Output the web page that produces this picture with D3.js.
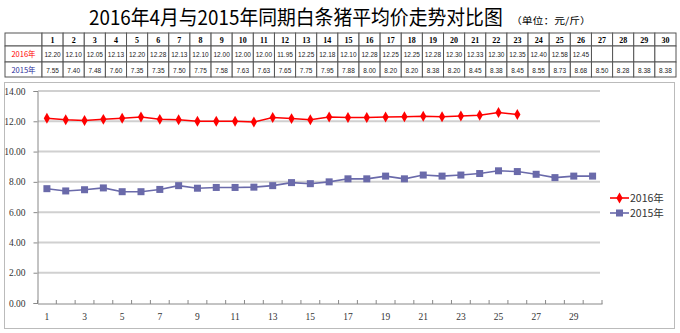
<!DOCTYPE html>
<html><head><meta charset="utf-8">
<script src="https://cdn.jsdelivr.net/npm/d3@7"></script>
<style>body{margin:0;background:#fff}svg{display:block}</style>
</head><body>
<script>
const days = [1,2,3,4,5,6,7,8,9,10,11,12,13,14,15,16,17,18,19,20,21,22,23,24,25,26,27,28,29,30];
const v2016 = [12.20,12.10,12.05,12.13,12.20,12.28,12.13,12.10,12.00,12.00,12.00,11.95,12.25,12.18,12.10,12.28,12.25,12.25,12.28,12.30,12.33,12.30,12.35,12.40,12.58,12.45];
const v2015 = [7.55,7.40,7.48,7.60,7.35,7.35,7.50,7.75,7.58,7.63,7.63,7.65,7.75,7.95,7.88,8.00,8.20,8.20,8.38,8.20,8.45,8.38,8.45,8.55,8.73,8.68,8.50,8.28,8.38,8.38];
const seriesNames = ["2016年","2015年"];
const yTicks = [0,2,4,6,8,10,12,14];
const title = "2016年4月与2015年同期白条猪平均价走势对比图";
const unit = "（单位：元/斤）";

const W=680,H=333;
const svg=d3.select("body").append("svg").attr("width",W).attr("height",H);
const red="#ff0000", blue="#6a6aaa";

// Title (scaled horizontally to the reference width)
const tt=svg.append("text").attr("x",0).attr("y",0).attr("font-family","Noto Sans CJK SC").attr("font-size",20)
  .attr("fill","#000").text(title);
const tw=tt.node().getComputedTextLength();
tt.attr("transform",`translate(89,25) scale(${414/tw},1)`);
const ut=svg.append("text").attr("x",0).attr("y",0).attr("font-family","Noto Sans CJK SC").attr("font-size",9.5)
  .attr("fill","#000").text(unit);
const uw=ut.node().getComputedTextLength();
ut.attr("transform",`translate(511,24) scale(${80/uw},1)`);

// Table
const tx = d3.scaleBand().domain(days).range([42,676]);
const rows=[{y:33,h:13},{y:46,h:16},{y:62,h:15}];
const tg=svg.append("g");
const fmt=d3.format(".2f");
rows.forEach((r,i)=>{
  tg.append("rect").attr("x",5).attr("y",r.y).attr("width",37).attr("height",r.h)
    .attr("fill","#fff").attr("stroke","#555").attr("stroke-width",1);
  tg.selectAll(null).data(days).enter().append("rect")
    .attr("x",d=>tx(d)).attr("y",r.y).attr("width",tx.bandwidth()).attr("height",r.h)
    .attr("fill","#fff").attr("stroke","#555").attr("stroke-width",1);
});
tg.append("text").attr("x",23.5).attr("y",57).attr("text-anchor","middle").attr("font-family","Noto Sans CJK SC")
  .attr("font-size",7.5).attr("fill","#ff0000").text(seriesNames[0]);
tg.append("text").attr("x",23.5).attr("y",72.5).attr("text-anchor","middle").attr("font-family","Noto Sans CJK SC")
  .attr("font-size",7.5).attr("fill","#2a2a9a").text(seriesNames[1]);
tg.selectAll(".hd").data(days).enter().append("text")
  .attr("x",d=>tx(d)+tx.bandwidth()/2).attr("y",43).attr("text-anchor","middle")
  .attr("font-family","Liberation Serif").attr("font-weight","bold").attr("font-size",8).text(d=>d);
tg.selectAll(".r1").data(v2016).enter().append("text")
  .attr("x",(d,i)=>tx(days[i])+tx.bandwidth()/2).attr("y",57).attr("text-anchor","middle")
  .attr("font-family","Liberation Sans Narrow, Liberation Sans").attr("font-size",6.5).attr("fill","#222").text(d=>fmt(d));
tg.selectAll(".r2").data(v2015).enter().append("text")
  .attr("x",(d,i)=>tx(days[i])+tx.bandwidth()/2).attr("y",72.5).attr("text-anchor","middle")
  .attr("font-family","Liberation Sans Narrow, Liberation Sans").attr("font-size",6.5).attr("fill","#222").text(d=>fmt(d));

// Chart frame
svg.append("rect").attr("x",4.5).attr("y",82.5).attr("width",670).attr("height",246)
  .attr("fill","none").attr("stroke","#bbb").attr("stroke-width",1);

const x=d3.scaleBand().domain(days).range([37.5,602]);
const y=d3.scaleLinear().domain([0,14]).range([303,91]);

svg.append("g").selectAll("line").data(yTicks.filter(t=>t>0)).enter().append("line")
  .attr("x1",38).attr("x2",600).attr("y1",d=>y(d)).attr("y2",d=>y(d))
  .attr("stroke","#d0d0d0").attr("stroke-width",2);

const ya=svg.append("g").attr("transform","translate(37.5,0)")
  .call(d3.axisLeft(y).tickValues(yTicks).tickSize(4).tickPadding(8).tickFormat(d3.format(".2f")));
ya.select(".domain").attr("stroke","#888");
ya.selectAll(".tick line").attr("stroke","#888");
ya.selectAll("text").attr("font-family","Liberation Serif").attr("font-size",9.5).attr("fill","#333");

const xa=svg.append("g").attr("transform","translate(0,303.5)")
  .call(d3.axisBottom(x).tickSize(0).tickPadding(10).tickFormat(d=>d%2===1?d:""));
xa.select(".domain").attr("stroke","#888");
xa.selectAll("text").attr("font-family","Liberation Serif").attr("font-size",9.5).attr("fill","#333");
svg.append("g").selectAll("line").data(days.concat([31])).enter().append("line")
  .attr("x1",d=>d<=30?x(d):x(30)+x.bandwidth()).attr("x2",d=>d<=30?x(d):x(30)+x.bandwidth())
  .attr("y1",300).attr("y2",304).attr("stroke","#888");

const cx=(d,i)=>x(days[i])+x.bandwidth()/2;
const line=d3.line().x(cx).y(d=>y(d));
svg.append("path").datum(v2015).attr("d",line).attr("fill","none").attr("stroke",blue).attr("stroke-width",1.6);
svg.append("g").selectAll("rect").data(v2015).enter().append("rect")
  .attr("x",(d,i)=>cx(d,i)-3.5).attr("y",d=>y(d)-3.5).attr("width",7).attr("height",7).attr("fill",blue);
svg.append("path").datum(v2016).attr("d",line).attr("fill","none").attr("stroke",red).attr("stroke-width",1.6);
const diamond=d3.symbol().type(d3.symbolDiamond).size(34);
svg.append("g").selectAll("path").data(v2016).enter().append("path")
  .attr("transform",(d,i)=>`translate(${cx(d,i)},${y(d)})`).attr("d",diamond).attr("fill",red);

const lg=svg.append("g");
[[red,198,"d"],[blue,213,"s"]].forEach(([c,yy,m],i)=>{
  lg.append("line").attr("x1",610).attr("x2",629).attr("y1",yy).attr("y2",yy).attr("stroke",c).attr("stroke-width",1.6);
  if(m==="d") lg.append("path").attr("transform",`translate(619.5,${yy})`).attr("d",diamond).attr("fill",c);
  else lg.append("rect").attr("x",616).attr("y",yy-3.5).attr("width",7).attr("height",7).attr("fill",c);
  lg.append("text").attr("x",630).attr("y",yy+4).attr("font-family","Noto Sans CJK SC").attr("font-size",10.5)
    .attr("fill","#333").text(seriesNames[i]);
});
</script>
</body></html>
